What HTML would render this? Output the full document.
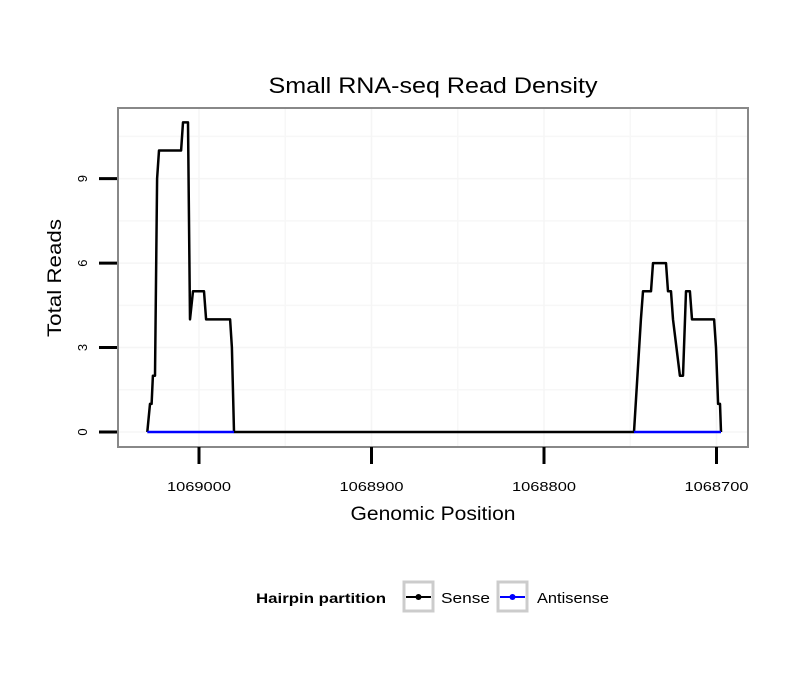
<!DOCTYPE html>
<html><head><meta charset="utf-8"><style>
body{margin:0;background:#fff}
svg{display:block;font-family:"Liberation Sans",sans-serif}
</style></head><body>
<svg id="chart" width="810" height="690">
<rect width="810" height="690" fill="#fff"/>
<text x="433" y="93" font-size="22" text-anchor="middle" textLength="329" lengthAdjust="spacingAndGlyphs">Small RNA-seq Read Density</text>
<g id="grid"></g>
<g id="series"></g>
<rect x="118" y="108" width="630" height="339" fill="none" stroke="#888" stroke-width="2"/>
<g id="axes"></g>
<text x="433" y="520" font-size="19" text-anchor="middle" textLength="165" lengthAdjust="spacingAndGlyphs">Genomic Position</text>
<text transform="translate(61,278) rotate(-90)" font-size="19" text-anchor="middle" textLength="118" lengthAdjust="spacingAndGlyphs">Total Reads</text>
<g>
<text x="256" y="603" font-size="14" font-weight="bold" textLength="130" lengthAdjust="spacingAndGlyphs">Hairpin partition</text>
<g>
<rect x="404" y="582" width="29" height="29" fill="#fff" stroke="#ccc" stroke-width="3"/>
<line x1="406" y1="597" x2="431" y2="597" stroke="#000" stroke-width="2"/>
<circle cx="418.5" cy="597" r="3" fill="#000"/>
<text x="441" y="603" font-size="15" textLength="49" lengthAdjust="spacingAndGlyphs">Sense</text></g>
<g>
<rect x="498" y="582" width="29" height="29" fill="#fff" stroke="#ccc" stroke-width="3"/>
<line x1="500" y1="597" x2="525" y2="597" stroke="#00f" stroke-width="2"/>
<circle cx="512.5" cy="597" r="3" fill="#00f"/>
<text x="537" y="603" font-size="15" textLength="72" lengthAdjust="spacingAndGlyphs">Antisense</text></g>
</g>
</svg>
<script>
const sensePos=[1069030,1069028.4,1069027.5,1069026.7,1069025.5,1069024.3,1069023.2,1069010.4,1069009.3,1069006.4,1069005.2,1069003.5,1068997.1,1068995.9,1068982.0,1068980.9,1068979.7,1068747.8,1068743.8,1068742.6,1068738.0,1068736.8,1068729.3,1068728.1,1068726.4,1068725.2,1068721.2,1068719.4,1068717.7,1068715.4,1068714.2,1068701.4,1068700.3,1068699.1,1068698.0,1068697.4];
const senseVals=[0,1,1,2,2,9,10,10,11,11,4,5,5,4,4,3,0,0,4,5,5,6,6,5,5,4,2,2,5,5,4,4,3,1,1,0];
const antiPos1=[1069030,1068979.7];
const antiPos2=[1068747.8,1068697.4];
const antiVals=[0,0];
const xTicks=[1069000,1068900,1068800,1068700];
const xTickLabels=["1069000","1068900","1068800","1068700"];
const xMinor=[1068950,1068850,1068750];
const yTicks=[0,3,6,9];
const yMinor=[1.5,4.5,7.5,10.5];
const NS='http://www.w3.org/2000/svg';
const xS=p=>199+(1069000-p)*1.725;
const yS=v=>432-v*28.15;
function mk(tag,attrs,parent){const e=document.createElementNS(NS,tag);for(const k in attrs)e.setAttribute(k,attrs[k]);parent.appendChild(e);return e;}
const grid=document.getElementById('grid'),axes=document.getElementById('axes'),series=document.getElementById('series');
xMinor.forEach(p=>{const l=mk('line',{x1:xS(p),x2:xS(p),y1:108,y2:447,stroke:'#f7f7f7','stroke-width':1.5},grid);

});
yMinor.forEach(v=>{const l=mk('line',{x1:118,x2:748,y1:yS(v),y2:yS(v),stroke:'#f7f7f7','stroke-width':1.5},grid);

});
xTicks.forEach((p,i)=>{const l=mk('line',{x1:xS(p),x2:xS(p),y1:108,y2:447,stroke:'#f5f5f5','stroke-width':1.5},grid);


const t=mk('line',{x1:xS(p),x2:xS(p),y1:447,y2:464,stroke:'#000','stroke-width':3},axes);


const tx=mk('text',{x:xS(p),y:491,'font-size':13,'text-anchor':'middle',textLength:64,lengthAdjust:'spacingAndGlyphs'},axes);tx.textContent=xTickLabels[i];

});
yTicks.forEach(v=>{const l=mk('line',{x1:118,x2:748,y1:yS(v),y2:yS(v),stroke:'#f5f5f5','stroke-width':1.5},grid);


const t=mk('line',{x1:99,x2:117,y1:yS(v),y2:yS(v),stroke:'#000','stroke-width':3},axes);


const tx=mk('text',{transform:`translate(87,${yS(v)}) rotate(-90)`,'font-size':13,'text-anchor':'middle'},axes);tx.textContent=String(v);

});
const pts=(ps,vs)=>ps.map((p,i)=>xS(p).toFixed(1)+','+yS(vs[i]).toFixed(1)).join(' ');
const s=mk('polyline',{points:pts(sensePos,senseVals),fill:'none',stroke:'#000','stroke-width':2.5,'stroke-linejoin':'round'},series);


[antiPos1,antiPos2].forEach(ap=>{const a=mk('polyline',{points:pts(ap,antiVals),fill:'none',stroke:'#00f','stroke-width':2.5},series);

});
</script>
</body></html>
